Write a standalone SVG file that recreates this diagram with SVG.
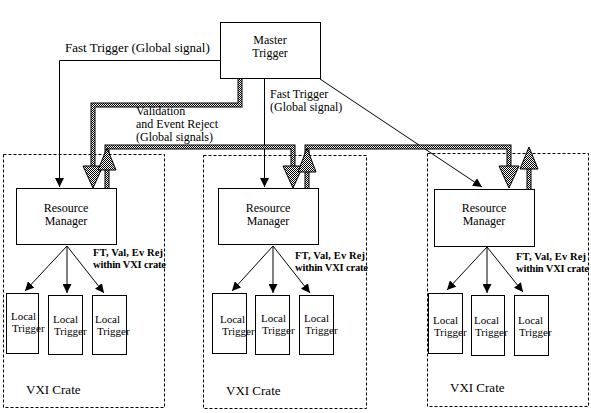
<svg xmlns="http://www.w3.org/2000/svg" width="591" height="413" viewBox="0 0 591 413">
<style>
  text { font-family: "Liberation Serif", "Times New Roman", serif; fill: #000; }
  .t13 { font-size: 13px; }
  .t12 { font-size: 12px; }
  .t11 { font-size: 11px; }
  .tb { font-size: 10.5px; font-weight: bold; }
  .mid { text-anchor: middle; }
  .box { fill: #fff; stroke: #000; stroke-width: 1; }
  .crate { fill: none; stroke: #000; stroke-width: 1; stroke-dasharray: 3 2; }
  .thin { fill: none; stroke: #000; stroke-width: 1; marker-end: url(#ah); }
  .thickOut { fill: none; stroke: #000; stroke-width: 5; }
  .thickIn { fill: none; stroke: url(#dither); stroke-width: 3; }
  .head { fill: url(#dither); stroke: #000; stroke-width: 1; }
</style>
<defs>
  <pattern id="dither" width="2" height="2" patternUnits="userSpaceOnUse">
    <rect width="2" height="2" fill="#fff"/>
    <rect width="1" height="1" fill="#000"/>
    <rect x="1" y="1" width="1" height="1" fill="#000"/>
  </pattern>
  <marker id="ah" markerUnits="userSpaceOnUse" markerWidth="9" markerHeight="9" refX="9" refY="4.5" orient="auto">
    <path d="M0,0 L9,4.5 L0,9 z" fill="#000"/>
  </marker>
</defs>
<rect width="591" height="413" fill="#fff"/>

<g id="crate-left">
  <rect class="crate" x="3.5" y="154.5" width="161" height="253"/>
  <text class="t13" x="26" y="394">VXI Crate</text>
</g>
<g id="crate-middle">
  <rect class="crate" x="203.5" y="155.5" width="163" height="253"/>
  <text class="t13" x="226" y="395">VXI Crate</text>
</g>
<g id="crate-right">
  <rect class="crate" x="427.5" y="153.5" width="161" height="253"/>
  <text class="t13" x="450" y="392">VXI Crate</text>
</g>

<g id="connectors">
  <path class="thin" d="M220,60.5 H59.5 V187"/>
  <path class="thin" d="M264.5,79 V187"/>
  <path class="thin" d="M320,79 L482,187"/>
  <path class="thickOut" d="M240,78 V105 H93 V170"/>
  <path class="thickIn" d="M240,78 V105 H93 V170"/>
  <path class="thickOut" d="M107,190 V147 H293 V168"/>
  <path class="thickIn" d="M107,190 V147 H293 V168"/>
  <path class="thickOut" d="M307,190 V147 H509 V168"/>
  <path class="thickIn" d="M307,190 V147 H509 V168"/>
  <path class="thickOut" d="M529,190 V160"/>
  <path class="thickIn" d="M529,190 V160"/>
  <polygon class="head" points="83,166 103,166 93,188"/>
  <polygon class="head" points="98,170 116,170 107,148"/>
  <polygon class="head" points="283,166 303,166 293,188"/>
  <polygon class="head" points="298,172 316,172 307,148"/>
  <polygon class="head" points="499,166 519,166 509,188"/>
  <polygon class="head" points="520,169 538,169 529,147"/>
  <path class="thin" d="M67,246 L25,291"/>
  <path class="thin" d="M67,246 V293"/>
  <path class="thin" d="M67,246 L104,293"/>
  <path class="thin" d="M273,246 L232,291"/>
  <path class="thin" d="M273,246 V293"/>
  <path class="thin" d="M273,246 L310,293"/>
  <path class="thin" d="M487,247 L447,290"/>
  <path class="thin" d="M487,247 V293"/>
  <path class="thin" d="M487,247 L523,292"/>
</g>

<g id="labels">
  <text class="t13" x="65" y="52">Fast Trigger (Global signal)</text>
  <text class="t12" x="270" y="98">Fast Trigger</text>
  <text class="t12" x="270" y="111">(Global signal)</text>
  <text class="t12" x="136" y="115">Validation</text>
  <text class="t12" x="136" y="128">and Event Reject</text>
  <text class="t12" x="136" y="141">(Global signals)</text>
  <text class="tb" x="93" y="256" textLength="70">FT, Val, Ev Rej</text>
  <text class="tb" x="93" y="268" textLength="73">within VXI crate</text>
  <text class="tb" x="295" y="259" textLength="70">FT, Val, Ev Rej</text>
  <text class="tb" x="295" y="271" textLength="73">within VXI crate</text>
  <text class="tb" x="516" y="260" textLength="70">FT, Val, Ev Rej</text>
  <text class="tb" x="516" y="272" textLength="73">within VXI crate</text>
</g>

<g id="master-trigger">
  <rect class="box" x="220.5" y="22.5" width="100" height="56"/>
  <text class="t12 mid" x="270" y="44">Master</text>
  <text class="t12 mid" x="270" y="57">Trigger</text>
</g>

<g id="rm-left">
  <rect class="box" x="16.5" y="188.5" width="100" height="56"/>
  <text class="t12 mid" x="66" y="212">Resource</text>
  <text class="t12 mid" x="66" y="225">Manager</text>
</g>
<g id="rm-middle">
  <rect class="box" x="218.5" y="188.5" width="100" height="56"/>
  <text class="t12 mid" x="268" y="212">Resource</text>
  <text class="t12 mid" x="268" y="225">Manager</text>
</g>
<g id="rm-right">
  <rect class="box" x="434.5" y="189.5" width="100" height="57"/>
  <text class="t12 mid" x="484" y="212">Resource</text>
  <text class="t12 mid" x="484" y="225">Manager</text>
</g>

<g id="lt-left-1">
  <rect class="box" x="6.5" y="293.5" width="32" height="60"/>
  <text class="t11" x="11" y="320">Local</text>
  <text class="t11" x="12" y="332">Trigger</text>
</g>
<g id="lt-left-2">
  <rect class="box" x="48.5" y="295.5" width="34" height="59"/>
  <text class="t11" x="53" y="323">Local</text>
  <text class="t11" x="54" y="335">Trigger</text>
</g>
<g id="lt-left-3">
  <rect class="box" x="92.5" y="295.5" width="34" height="59"/>
  <text class="t11" x="95" y="323">Local</text>
  <text class="t11" x="97" y="335">Trigger</text>
</g>

<g id="lt-middle-1">
  <rect class="box" x="212.5" y="293.5" width="34" height="60"/>
  <text class="t11" x="220" y="323">Local</text>
  <text class="t11" x="222" y="335">Trigger</text>
</g>
<g id="lt-middle-2">
  <rect class="box" x="255.5" y="295.5" width="34" height="59"/>
  <text class="t11" x="261" y="322">Local</text>
  <text class="t11" x="262" y="334">Trigger</text>
</g>
<g id="lt-middle-3">
  <rect class="box" x="299.5" y="295.5" width="34" height="59"/>
  <text class="t11" x="304" y="322">Local</text>
  <text class="t11" x="305" y="334">Trigger</text>
</g>

<g id="lt-right-1">
  <rect class="box" x="428.5" y="293.5" width="34" height="60"/>
  <text class="t11" x="433" y="324">Local</text>
  <text class="t11" x="434" y="336">Trigger</text>
</g>
<g id="lt-right-2">
  <rect class="box" x="471.5" y="295.5" width="33" height="60"/>
  <text class="t11" x="474" y="324">Local</text>
  <text class="t11" x="475" y="336">Trigger</text>
</g>
<g id="lt-right-3">
  <rect class="box" x="514.5" y="295.5" width="34" height="60"/>
  <text class="t11" x="518" y="324">Local</text>
  <text class="t11" x="519" y="336">Trigger</text>
</g>
</svg>
